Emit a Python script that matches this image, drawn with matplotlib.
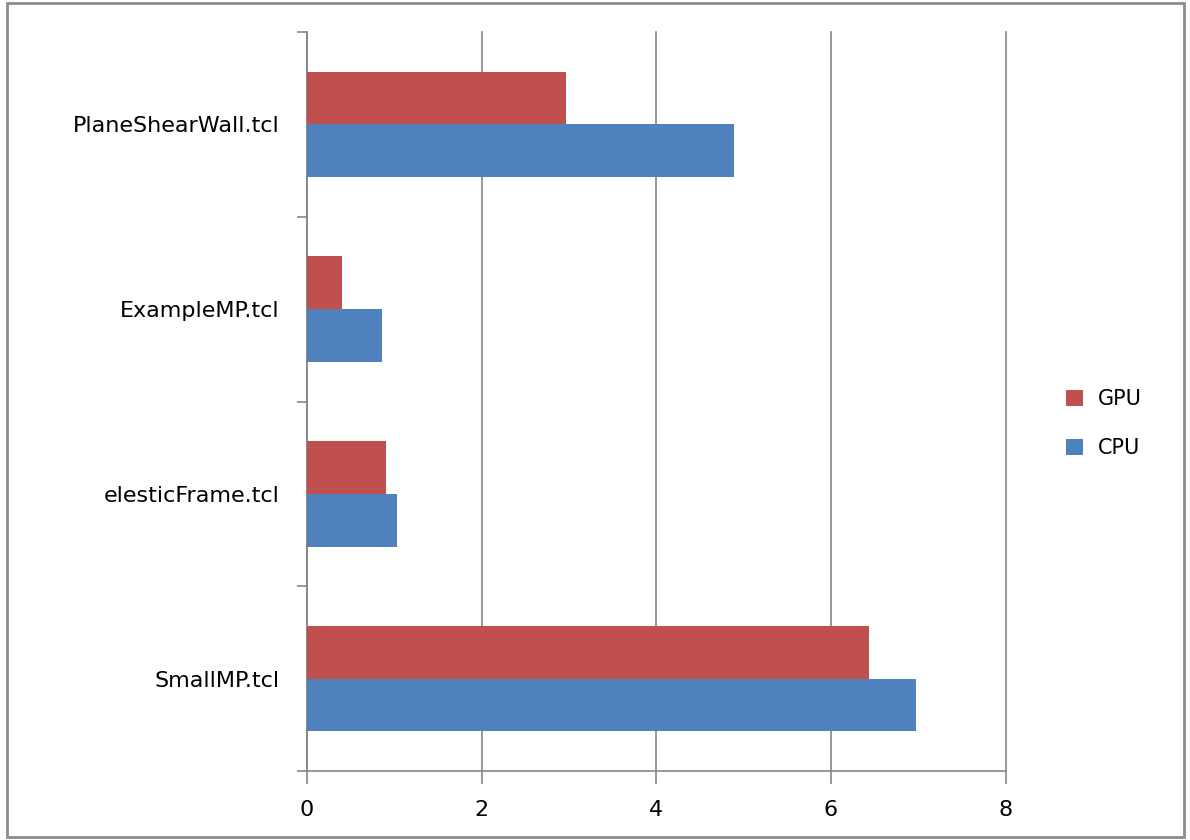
import matplotlib.pyplot as plt
import numpy as np
from matplotlib.patches import Rectangle

# run times per test script
scripts = ['SmallMP.tcl', 'elesticFrame.tcl', 'ExampleMP.tcl', 'PlaneShearWall.tcl']
gpu = [6.44, 0.91, 0.40, 2.97]
cpu = [6.98, 1.03, 0.86, 4.89]

red = '#C0504D'
blue = '#4F81BD'
grey = '#868686'

fig = plt.figure(figsize=(11.9, 8.4), dpi=100)
ax = fig.add_axes([0.258, 0.082, 0.587, 0.880])

y = np.arange(len(scripts))
h = 0.285
ax.barh(y + h / 2, gpu, height=h, color=red, label='GPU', zorder=3)
ax.barh(y - h / 2, cpu, height=h, color=blue, label='CPU', zorder=3)

ax.set_xlim(0, 8)
ax.set_ylim(-0.5, len(scripts) - 0.5)
ax.set_xticks([0, 2, 4, 6, 8])
ax.xaxis.grid(True, color=grey, lw=1.2, zorder=0)
for gl in ax.get_xgridlines():
    gl.set_clip_on(False)

# category labels centred, ticks on the boundaries
ax.set_yticks(y)
ax.set_yticklabels(scripts)
ax.tick_params(axis='y', length=0, pad=20, labelsize=16)
ax.set_yticks(np.arange(-0.5, len(scripts), 1.0), minor=True)
ax.tick_params(axis='y', which='minor', length=7, color=grey, width=1.2)
ax.tick_params(axis='x', length=9, color=grey, width=1.2, labelsize=16, pad=12)

for s in ['top', 'right']:
    ax.spines[s].set_visible(False)
for s in ['left', 'bottom']:
    ax.spines[s].set_color(grey)
    ax.spines[s].set_linewidth(1.2)

ax.legend(loc='center left', bbox_to_anchor=(1.06, 0.47), frameon=False,
          fontsize=15, handlelength=0.8, handleheight=0.8, handletextpad=0.7,
          labelspacing=1.4)

fig.patches.append(Rectangle((0.006, 0.004), 0.989, 0.992, transform=fig.transFigure,
                             fill=False, edgecolor='#8c8c8c', lw=2))

fig.savefig('out.png', dpi=100)
